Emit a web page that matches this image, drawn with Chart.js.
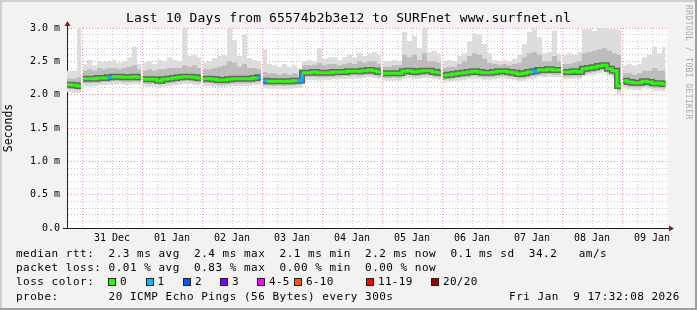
<!DOCTYPE html>
<html>
<head>
<meta charset="utf-8">
<script src="https://cdn.jsdelivr.net/npm/chart.js@4.4.1/dist/chart.umd.min.js"></script>
<style>
  body { margin: 0; background: #f2f2f2; }
  #graph { position: relative; width: 697px; height: 310px; background: #f2f2f2; overflow: hidden;
           font-family: 'DejaVu Sans Mono', monospace; color: #000; }
  #graph canvas { position: absolute; left: 0; top: 0; }
  .edge { position: absolute; }
  #title { position: absolute; left: 0; top: 10px; width: 697px; text-align: center;
           font-size: 13px; line-height: 16px; letter-spacing: 0.12px; white-space: pre; }
  .leg { position: absolute; left: 16px; font-size: 11px; line-height: 14px; letter-spacing: 0.5px; white-space: pre; }
  .sw { position: absolute; top: 278px; width: 6px; height: 6px; border: 1px solid #222; }
  .swl { position: absolute; top: 275px; font-size: 11px; line-height: 14px; letter-spacing: 0.3px; white-space: pre; }
  #stamp { position: absolute; right: 17px; top: 290px; font-size: 11px; line-height: 14px; letter-spacing: 0.5px; white-space: pre; }
  #wm { position: absolute; left: 684px; top: 5px; writing-mode: vertical-rl; font-size: 8px;
        letter-spacing: 0.4px; color: #a8a8a8; white-space: pre; }
</style>
</head>
<body>
<div id="graph">
  <canvas id="chart" width="697" height="310"></canvas>
  <div id="title">Last 10 Days from 65574b2b3e12 to SURFnet www.surfnet.nl</div>
  <div id="wm">RRDTOOL / TOBI OETIKER</div>
  <div class="leg" style="top:247px">median rtt:  2.3 ms avg  2.4 ms max  2.1 ms min  2.2 ms now  0.1 ms sd  34.2   am/s</div>
  <div class="leg" style="top:261px">packet loss: 0.01 % avg  0.83 % max  0.00 % min  0.00 % now</div>
  <div class="leg" style="top:275px">loss color:</div>
  <div id="swatches"></div>
  <div class="leg" style="top:290px">probe:       20 ICMP Echo Pings (56 Bytes) every 300s</div>
  <div id="stamp">Fri Jan  9 17:32:08 2026</div>
  <div class="edge" style="left:0;top:0;width:697px;height:2px;background:#cfcfcf"></div>
  <div class="edge" style="left:0;top:0;width:2px;height:310px;background:#cfcfcf"></div>
  <div class="edge" style="right:0;top:0;width:2px;height:310px;background:#9e9e9e"></div>
  <div class="edge" style="left:0;bottom:0;width:697px;height:2px;background:#9e9e9e"></div>
</div>
<script>
/* TIME: hours from 31 Dec 00:00, one value every 2 hours */
const startHour = -6;
const stepHours = 2;
const gapHours = [0, 24, 48, 72, 120, 144, 192, 216];
const lossOneHours = [10, 70, 72, 86, 180];

const dayLabels = ['31 Dec', '01 Jan', '02 Jan', '03 Jan', '04 Jan', '05 Jan', '06 Jan', '07 Jan', '08 Jan', '09 Jan'];
const yTickValues = [0, 0.5, 1.0, 1.5, 2.0, 2.5, 3.0];
const yTickLabels = ['0.0', '0.5 m', '1.0 m', '1.5 m', '2.0 m', '2.5 m', '3.0 m'];

const lossLabels = ['0', '1', '2', '3', '4-5', '6-10', '11-19', '20/20'];
const lossColors = ['#26ff00', '#00b8ff', '#0059ff', '#7e00ff', '#ff00ff', '#ff5500', '#ff0000', '#a00000'];

/* median rtt (ms) */
const medianRtt = [
  2.15, 2.14, 2.13,
  2.24, 2.24, 2.24, 2.25, 2.25, 2.26, 2.27, 2.27, 2.26, 2.26, 2.27, 2.26,
  2.23, 2.23, 2.23, 2.21, 2.23, 2.24, 2.25, 2.26, 2.27, 2.27, 2.26, 2.25,
  2.24, 2.24, 2.23, 2.22, 2.22, 2.23, 2.24, 2.24, 2.24, 2.24, 2.25, 2.26,
  2.21, 2.20, 2.20, 2.20, 2.20, 2.20, 2.21, 2.21, 2.33, 2.33, 2.34, 2.33,
  2.33, 2.33, 2.34, 2.34, 2.34, 2.35, 2.35, 2.35, 2.36, 2.37, 2.36, 2.34,
  2.32, 2.32, 2.32, 2.32, 2.35, 2.36, 2.34, 2.35, 2.36, 2.36, 2.34, 2.33,
  2.29, 2.30, 2.31, 2.32, 2.33, 2.34, 2.35, 2.34, 2.33, 2.33, 2.34, 2.35,
  2.35, 2.34, 2.33, 2.31, 2.32, 2.34, 2.35, 2.37, 2.37, 2.38, 2.37, 2.37,
  2.34, 2.34, 2.35, 2.34, 2.39, 2.40, 2.41, 2.43, 2.44, 2.39, 2.36, 2.13,
  2.21, 2.19, 2.18, 2.18, 2.20, 2.19, 2.17, 2.17, 2.16
];

/* slowest ping of each step */
const maxRtt = [
  2.36, 2.36, 3.00,
  2.46, 2.52, 2.44, 2.50, 2.49, 2.50, 2.52, 2.48, 2.50, 2.56, 2.72, 2.46,
  2.48, 2.50, 2.46, 2.52, 2.50, 2.56, 2.52, 2.50, 3.00, 2.58, 2.60, 2.56,
  2.48, 2.50, 2.55, 2.58, 2.60, 3.00, 2.82, 2.58, 2.90, 2.55, 2.52, 2.50,
  2.68, 2.46, 2.44, 2.42, 2.46, 2.42, 2.44, 2.40, 2.50, 2.52, 2.50, 2.70,
  2.54, 2.56, 2.56, 2.52, 2.56, 2.60, 2.56, 2.62, 2.58, 2.62, 2.64, 2.60,
  2.50, 2.50, 2.52, 2.50, 2.94, 2.80, 2.88, 2.70, 3.00, 2.64, 2.66, 2.62,
  2.50, 2.52, 2.50, 2.58, 2.62, 2.80, 2.92, 2.90, 2.76, 2.62, 2.52, 2.50,
  2.52, 2.50, 2.54, 2.60, 2.76, 2.94, 2.98, 2.86, 2.62, 2.64, 2.96, 2.62,
  2.60, 2.62, 2.60, 2.64, 2.98, 2.98, 2.96, 3.00, 3.00, 2.98, 2.98, 2.97,
  2.44, 2.46, 2.44, 2.46, 2.56, 2.60, 2.72, 2.62, 2.72
];

/* upper edge of the denser smoke */
const upperRtt = [
  2.24, 2.24, 2.26,
  2.36, 2.38, 2.36, 2.40, 2.38, 2.40, 2.40, 2.38, 2.40, 2.42, 2.44, 2.38,
  2.36, 2.38, 2.36, 2.38, 2.38, 2.40, 2.40, 2.40, 2.44, 2.42, 2.44, 2.40,
  2.38, 2.38, 2.40, 2.42, 2.44, 2.50, 2.48, 2.42, 2.46, 2.40, 2.40, 2.38,
  2.34, 2.32, 2.32, 2.30, 2.32, 2.30, 2.32, 2.30, 2.44, 2.44, 2.45, 2.48,
  2.44, 2.46, 2.46, 2.44, 2.46, 2.48, 2.46, 2.50, 2.48, 2.50, 2.50, 2.46,
  2.42, 2.42, 2.44, 2.44, 2.60, 2.56, 2.60, 2.52, 2.62, 2.50, 2.50, 2.48,
  2.40, 2.42, 2.42, 2.46, 2.50, 2.58, 2.62, 2.60, 2.54, 2.48, 2.46, 2.45,
  2.46, 2.44, 2.46, 2.48, 2.56, 2.62, 2.64, 2.60, 2.50, 2.50, 2.58, 2.50,
  2.46, 2.46, 2.48, 2.50, 2.62, 2.64, 2.66, 2.68, 2.70, 2.66, 2.62, 2.60,
  2.32, 2.32, 2.30, 2.32, 2.36, 2.36, 2.40, 2.36, 2.36
];

/* lower edge of the denser smoke */
const lowerRtt = [
  2.09, 2.08, 2.07,
  2.17, 2.17, 2.18, 2.18, 2.19, 2.19, 2.20, 2.20, 2.19, 2.19, 2.20, 2.19,
  2.17, 2.16, 2.17, 2.15, 2.16, 2.17, 2.18, 2.19, 2.20, 2.20, 2.19, 2.18,
  2.17, 2.17, 2.16, 2.15, 2.15, 2.16, 2.17, 2.17, 2.17, 2.17, 2.18, 2.19,
  2.14, 2.14, 2.13, 2.14, 2.13, 2.14, 2.14, 2.15, 2.26, 2.27, 2.27, 2.26,
  2.26, 2.27, 2.27, 2.27, 2.28, 2.28, 2.29, 2.28, 2.29, 2.30, 2.29, 2.27,
  2.25, 2.25, 2.26, 2.25, 2.28, 2.29, 2.27, 2.28, 2.29, 2.29, 2.27, 2.26,
  2.22, 2.23, 2.24, 2.25, 2.26, 2.27, 2.28, 2.27, 2.26, 2.26, 2.27, 2.28,
  2.28, 2.27, 2.26, 2.24, 2.25, 2.27, 2.28, 2.30, 2.30, 2.31, 2.30, 2.30,
  2.27, 2.27, 2.28, 2.27, 2.32, 2.33, 2.34, 2.36, 2.37, 2.32, 2.29, 2.06,
  2.14, 2.12, 2.11, 2.11, 2.13, 2.12, 2.10, 2.10, 2.09
];

/* fastest ping of each step */
const minRtt = [
  2.04, 2.03, 2.02,
  2.13, 2.12, 2.13, 2.14, 2.14, 2.15, 2.15, 2.16, 2.15, 2.15, 2.16, 2.15,
  2.12, 2.12, 2.12, 2.10, 2.12, 2.13, 2.14, 2.15, 2.16, 2.16, 2.15, 2.14,
  2.13, 2.13, 2.12, 2.11, 2.11, 2.12, 2.13, 2.13, 2.13, 2.13, 2.14, 2.15,
  2.10, 2.09, 2.09, 2.09, 2.08, 2.09, 2.10, 2.10, 2.21, 2.22, 2.22, 2.21,
  2.22, 2.22, 2.23, 2.23, 2.23, 2.24, 2.24, 2.24, 2.25, 2.26, 2.25, 2.23,
  2.21, 2.21, 2.21, 2.21, 2.24, 2.25, 2.23, 2.24, 2.25, 2.25, 2.23, 2.22,
  2.18, 2.19, 2.20, 2.21, 2.22, 2.23, 2.24, 2.23, 2.22, 2.22, 2.23, 2.24,
  2.24, 2.23, 2.22, 2.20, 2.21, 2.23, 2.24, 2.26, 2.26, 2.27, 2.26, 2.26,
  2.23, 2.23, 2.24, 2.23, 2.28, 2.29, 2.30, 2.32, 2.33, 2.28, 2.25, 2.01,
  2.10, 2.08, 2.07, 2.07, 2.09, 2.08, 2.06, 2.06, 2.05
];

/* SWATCHES */
const swatchLeft = [108, 145.5, 183, 220, 257, 294, 366, 431];
const swBox = document.getElementById('swatches');
lossLabels.forEach((lab, i) => {
    const s = document.createElement('div');
    s.className = 'sw';
    s.style.left = swatchLeft[i] + 'px';
    s.style.background = lossColors[i];
    swBox.appendChild(s);
    const t = document.createElement('div');
    t.className = 'swl';
    t.style.left = (swatchLeft[i] + 12) + 'px';
    t.textContent = lab;
    swBox.appendChild(t);
});

/* SERIES WITH DAILY GAPS */
function buildSeries(values) {
    const pts = [];
    values.forEach((v, i) => {
        const h = startHour + i * stepHours;
        const end = h + stepHours;
        pts.push({ x: gapHours.includes(h) ? h + 0.4 : h, y: v });
        if (gapHours.includes(end)) {
            pts.push({ x: end - 0.4, y: v });
            pts.push({ x: end - 0.4, y: null });
        }
    });
    pts.push({ x: startHour + values.length * stepHours - 0.6, y: values[values.length - 1] });
    return pts;
}

function bucketOf(x) {
    return startHour + stepHours * Math.floor((x - startHour + 1e-6) / stepHours);
}

/* TICKS */
const xTicks = [];
for (let h = 0; h <= 228; h += 6) xTicks.push(h);
const yTicks = [];
for (let i = 0; i <= 30; i++) yTicks.push(i / 10);

const majorGrid = 'rgba(222,79,79,0.6)';
const minorGrid = 'rgba(143,143,143,0.5)';

const plotBg = {
    id: 'plotBg',
    beforeDraw(chart) {
        const { ctx, chartArea: a } = chart;
        ctx.save();
        ctx.fillStyle = '#ffffff';
        ctx.fillRect(a.left, a.top, a.right - a.left, a.bottom - a.top);
        ctx.restore();
    }
};

const arrows = {
    id: 'arrows',
    afterDraw(chart) {
        const { ctx, chartArea: a } = chart;
        const x0 = a.left + 0.5, y0 = a.bottom + 0.5;
        ctx.save();
        ctx.strokeStyle = '#1f1f1f';
        ctx.lineWidth = 1;
        ctx.beginPath();
        ctx.moveTo(x0, a.top);
        ctx.lineTo(x0, a.top - 3);
        ctx.moveTo(a.left - 4, y0);
        ctx.lineTo(a.left, y0);
        ctx.moveTo(a.right, y0);
        ctx.lineTo(a.right + 2, y0);
        ctx.stroke();
        ctx.fillStyle = '#801f1f';
        ctx.beginPath();
        ctx.moveTo(x0, a.top - 7);
        ctx.lineTo(x0 - 3, a.top - 2);
        ctx.lineTo(x0 + 3, a.top - 2);
        ctx.closePath();
        ctx.fill();
        ctx.beginPath();
        ctx.moveTo(a.right + 7, y0);
        ctx.lineTo(a.right + 2, y0 - 3);
        ctx.lineTo(a.right + 2, y0 + 3);
        ctx.closePath();
        ctx.fill();
        ctx.restore();
    }
};

Chart.defaults.font.family = "'DejaVu Sans Mono', monospace";
Chart.defaults.color = '#000';

const flat = { borderColor: 'transparent', borderWidth: 0, pointRadius: 0, stepped: true };

new Chart(document.getElementById('chart'), {
    type: 'line',
    data: {
        datasets: [
            { ...flat, label: 'min', data: buildSeries(minRtt), fill: false, order: 5 },
            { ...flat, label: 'max', data: buildSeries(maxRtt), fill: { target: 0 }, backgroundColor: '#dddddd', order: 4 },
            { ...flat, label: 'lower', data: buildSeries(lowerRtt), fill: false, order: 3 },
            { ...flat, label: 'upper', data: buildSeries(upperRtt), fill: { target: 2 }, backgroundColor: '#bcbcbc', order: 2 },
            { label: 'core', data: buildSeries(medianRtt), stepped: true, pointRadius: 0, fill: false,
              borderColor: '#666666', borderWidth: 6, order: 1 },
            { label: 'median', data: buildSeries(medianRtt), stepped: true, pointRadius: 0, fill: false,
              borderColor: lossColors[0], borderWidth: 3, order: 0,
              segment: { borderColor: c => lossOneHours.includes(bucketOf(c.p0.parsed.x)) ? lossColors[1] : undefined } }
        ]
    },
    options: {
        responsive: false,
        animation: false,
        devicePixelRatio: 1,
        events: [],
        layout: { padding: { left: 0, top: 28, right: 30, bottom: 62 } },
        plugins: { legend: { display: false }, tooltip: { enabled: false } },
        scales: {
            x: {
                type: 'linear',
                min: -6,
                max: 234,
                afterBuildTicks: s => { s.ticks = xTicks.map(v => ({ value: v })); },
                afterFit: s => { s.height = 20; },
                grid: {
                    color: c => (c.tick && c.tick.value % 24 === 0) ? majorGrid : minorGrid,
                    lineWidth: 1,
                    drawTicks: false,
                    borderDash: [1, 2]
                },
                border: { display: true, color: '#1f1f1f', width: 1, dash: [1, 2] },
                ticks: {
                    autoSkip: false,
                    maxRotation: 0,
                    padding: 4,
                    color: '#000',
                    font: { size: 10 },
                    callback: v => (v % 24 === 12) ? dayLabels[(v - 12) / 24] : ''
                }
            },
            y: {
                min: 0,
                max: 3,
                afterBuildTicks: s => { s.ticks = yTicks.map(v => ({ value: v })); },
                afterFit: s => { s.width = 67; },
                grid: {
                    color: c => {
                        const v = c.tick ? c.tick.value : 0;
                        return yTickValues.some(t => Math.abs(t - v) < 1e-6) ? majorGrid : minorGrid;
                    },
                    lineWidth: 1,
                    drawTicks: false,
                    borderDash: [1, 2]
                },
                border: { display: true, color: '#1f1f1f', width: 1, dash: [1, 2] },
                title: { display: true, text: 'Seconds', color: '#000', font: { size: 11.5 }, padding: { top: 2, bottom: 0 } },
                ticks: {
                    autoSkip: false,
                    padding: 7,
                    color: '#000',
                    font: { size: 10 },
                    callback: v => {
                        const k = yTickValues.findIndex(t => Math.abs(t - v) < 1e-6);
                        return k >= 0 ? yTickLabels[k] : '';
                    }
                }
            }
        }
    },
    plugins: [plotBg, arrows]
});
</script>
</body>
</html>
